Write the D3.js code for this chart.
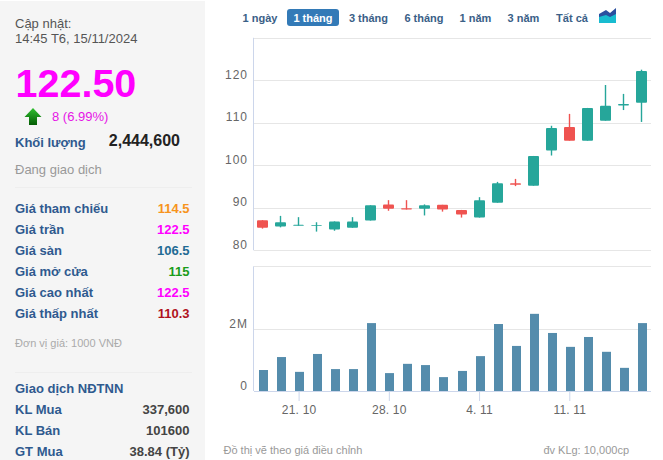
<!DOCTYPE html>
<html>
<head>
<meta charset="utf-8">
<script src="https://cdn.jsdelivr.net/npm/d3@7"></script>
<style>
  html, body { margin: 0; padding: 0; background: #fff; }
  svg { display: block; }
  text { font-family: "Liberation Sans", Arial, sans-serif; }
  .axis text { font-size: 12px; fill: #666; letter-spacing: 1px; }
  .axis.dates text { letter-spacing: .2px; }
  .axis path { display: none; }
</style>
</head>
<body>
<svg width="663" height="460"></svg>
<script>
// Chart data
var dates = ["17.10","18.10","21.10","22.10","23.10","24.10","25.10","28.10","29.10","30.10","31.10",
             "1.11","4.11","5.11","6.11","7.11","8.11","11.11","12.11","13.11","14.11","15.11"];
var open_ = [87.1,85.6,85.8,85.7,84.9,85.3,87.0,90.8,89.9,89.8,90.7,89.5,87.7,91.2,95.8,95.2,103.5,109.0,105.8,110.5,114.1,114.7];
var close_ = [85.3,86.6,86.0,85.9,86.8,86.8,90.6,89.8,89.6,90.6,89.6,88.4,91.8,95.8,95.4,102.2,108.8,105.8,113.5,114.0,114.4,122.2];
var high = [87.1,88.1,87.8,86.6,86.8,87.8,90.6,91.8,91.8,90.8,90.7,89.5,92.5,96.1,96.8,102.2,109.3,112.1,113.5,118.9,116.8,122.5];
var low = [85.1,85.4,85.8,84.4,84.6,85.3,87.0,89.3,89.6,88.2,89.1,87.7,87.7,91.2,95.1,95.2,102.3,105.8,105.8,110.5,113.0,110.2];
var volume = [0.68,1.10,0.62,1.20,0.71,0.71,2.20,0.58,0.88,0.84,0.45,0.65,1.13,2.17,1.46,2.50,1.88,1.43,1.75,1.27,0.75,2.20];

var priceTicks = [80,90,100,110,120];
var volumeTicks = [0,2];
var dateTicks = ["21.10","28.10","4.11","11.11"];
var dateLabels = ["21. 10","28. 10","4. 11","11. 11"];

var ranges = ["1 ngày","1 tháng","3 tháng","6 tháng","1 năm","3 năm","Tất cả"];
var rangeX = [260,313,368.5,424,475.5,523.5,572];

var statLabels = ["Giá tham chiếu","Giá trần","Giá sàn","Giá mở cửa","Giá cao nhất","Giá thấp nhất"];
var statValues = ["114.5","122.5","106.5","115","122.5","110.3"];
var statColors = ["#f7941d","#f0f","#1f6b94","#1a9c1a","#f0f","#b0121c"];
var foreignLabels = ["KL Mua","KL Bán","GT Mua"];
var foreignValues = ["337,600","101600","38.84 (Tỷ)"];

var svg = d3.select("svg");

// Left panel
var panel = svg.append("g");
panel.append("rect").attr("x",0).attr("y",1).attr("width",205).attr("height",459).attr("fill","#f5f5f5");

function label(t, x, y, size, color, bold, anchor) {
  return panel.append("text").text(t)
    .attr("x",x).attr("y",y)
    .attr("font-size",size)
    .attr("fill",color)
    .attr("font-weight",bold ? "bold" : "normal")
    .attr("text-anchor",anchor || "start");
}

label("Cập nhật:",15,28,13,"#555");
label("14:45 T6, 15/11/2024",15,43,13,"#555");
label("122.50",15.5,97,39.5,"#f0f",true);
label("8 (6.99%)",52,120.5,13,"#e614e6");
label("Khối lượng",15,147,13,"#2f5a8f",true);
label("2,444,600",180,146,16,"#222",true,"end");
label("Đang giao dịch",15,174,13,"#999");
label("Đơn vị giá: 1000 VNĐ",15,347,11,"#aaa");
label("Giao dịch NĐTNN",15,393,13,"#2f5a8f",true);

[187.5,372.5].forEach(function(y){
  panel.append("line").attr("x1",15).attr("x2",192).attr("y1",y).attr("y2",y).attr("stroke","#eee");
});

statLabels.forEach(function(d,i){
  label(d,15,213+i*21,13,"#2f5a8f",true);
  label(statValues[i],189.5,213+i*21,13,statColors[i],true,"end");
});
foreignLabels.forEach(function(d,i){
  label(d,15,414+i*21,13,"#2f5a8f",true);
  label(foreignValues[i],189.5,414+i*21,13,"#444",true,"end");
});

// Green arrow
var defs = svg.append("defs");
var grad = defs.append("linearGradient").attr("id","arrowGrad").attr("x1",0).attr("x2",0).attr("y1",0).attr("y2",1);
grad.append("stop").attr("offset","0").attr("stop-color","#2fc02f");
grad.append("stop").attr("offset","1").attr("stop-color","#045c04");
panel.append("path")
  .attr("d","M33 108L41.5 117H37V125H29V117H24.5Z")
  .attr("fill","url(#arrowGrad)");

// Range buttons
var btn = svg.append("g");
btn.append("rect").attr("x",287).attr("y",9).attr("width",52).attr("height",17).attr("rx",3).attr("fill","#337ab7");
btn.selectAll("text").data(ranges).enter().append("text")
  .text(function(d){ return d })
  .attr("x",function(d,i){ return rangeX[i] })
  .attr("y",21.5)
  .attr("text-anchor","middle")
  .attr("font-size",11)
  .attr("font-weight","bold")
  .attr("fill",function(d,i){ return i==1 ? "#fff" : "#3a6087" });

// Area-chart icon
btn.append("path").attr("d","M599 23V14L606 10L610 13L616 8V23Z").attr("fill","#2a4f9f");
btn.append("path").attr("d","M599 23V17L606 15L610 17L616 14V23Z").attr("fill","#18bcd0");

// Scales
var x = d3.scalePoint().domain(dates).range([262.5,641.5]);
var px = function(d){ return Math.floor(x(d)) + .5 };
var y = d3.scaleLinear().domain([80,130]).range([250.3,37.8]);
var yVol = d3.scaleLinear().domain([0,4.04]).range([391,266.3]);
var plotLeft = 254, plotRight = 651;

// Price axis
var gPrice = svg.append("g").attr("class","axis").attr("transform","translate("+plotLeft+",0)")
  .call(d3.axisLeft(y).tickValues(priceTicks.concat([130])).tickSize(0).tickPadding(6)
    .tickFormat(function(d){ return d==130 ? "" : d }));
gPrice.selectAll("text").attr("dy",-2);

// Volume axis
var gVol = svg.append("g").attr("class","axis").attr("transform","translate("+plotLeft+",0)")
  .call(d3.axisLeft(yVol).tickValues(volumeTicks.concat([4.04])).tickSize(0).tickPadding(6)
    .tickFormat(function(d){ return d==4.04 ? "" : d==0 ? "0" : d+"M" }));
gVol.selectAll("text").attr("dy",-2);

// Gridlines
function grid(g, scale, values, color) {
  g.selectAll("line.g").data(values).enter().append("line").attr("class","g")
    .attr("x1",plotLeft).attr("x2",plotRight)
    .attr("y1",function(d){ return Math.round(scale(d)) + .5 })
    .attr("y2",function(d){ return Math.round(scale(d)) + .5 })
    .attr("stroke",color);
}
grid(svg.append("g"), y, priceTicks.concat([130]), "#e6e6e6");
grid(svg.append("g"), yVol, [2,4.04], "#e6e6e6");
grid(svg.append("g"), yVol, [0], "#ccd6eb");

// Left axis lines
[[y(130),y(80)],[yVol(4.04),yVol(0)]].forEach(function(r){
  svg.append("line").attr("x1",plotLeft-.5).attr("x2",plotLeft-.5).attr("y1",r[0]).attr("y2",r[1]).attr("stroke","#ccd6eb");
});

// Date axis
var gDate = svg.append("g").attr("class","axis dates").attr("transform","translate(0,391)")
  .call(d3.axisBottom(x).tickValues(dateTicks).tickSize(10).tickPadding(4)
    .tickFormat(function(d){ return dateLabels[dateTicks.indexOf(d)] }));
gDate.selectAll("line").attr("stroke","#ccd6eb");

// Candles
var up = "#26a69a", down = "#ef5350";
var candle = svg.append("g").selectAll("g").data(dates).enter().append("g");
candle.append("line")
  .attr("x1",px).attr("x2",px)
  .attr("y1",function(d,i){ return y(high[i]) })
  .attr("y2",function(d,i){ return y(low[i]) })
  .attr("stroke-width",1.4)
  .style("stroke",function(d,i){ return close_[i]>=open_[i] ? up : down });
candle.append("rect")
  .attr("x",function(d){ return px(d)-5.5 })
  .attr("width",11)
  .attr("y",function(d,i){ return y(Math.max(open_[i],close_[i])) })
  .attr("height",function(d,i){ return Math.abs(y(open_[i])-y(close_[i])) })
  .attr("rx",1)
  .attr("fill",function(d,i){ return close_[i]>=open_[i] ? up : down });

// Volume bars
svg.append("g").selectAll("rect").data(dates).enter().append("rect")
  .attr("x",function(d){ return px(d)-3.5 })
  .attr("width",9)
  .attr("y",function(d,i){ return yVol(volume[i]) })
  .attr("height",function(d,i){ return yVol(0)-yVol(volume[i]) })
  .attr("fill","#548cac");

// Footnotes
svg.append("text").text("Đồ thị vẽ theo giá điều chỉnh").attr("x",223.5).attr("y",454).attr("font-size",11).attr("fill","#999");
svg.append("text").text("đv KLg: 10,000cp").attr("x",629).attr("y",454).attr("text-anchor","end").attr("font-size",11).attr("fill","#999");
</script>
</body>
</html>
